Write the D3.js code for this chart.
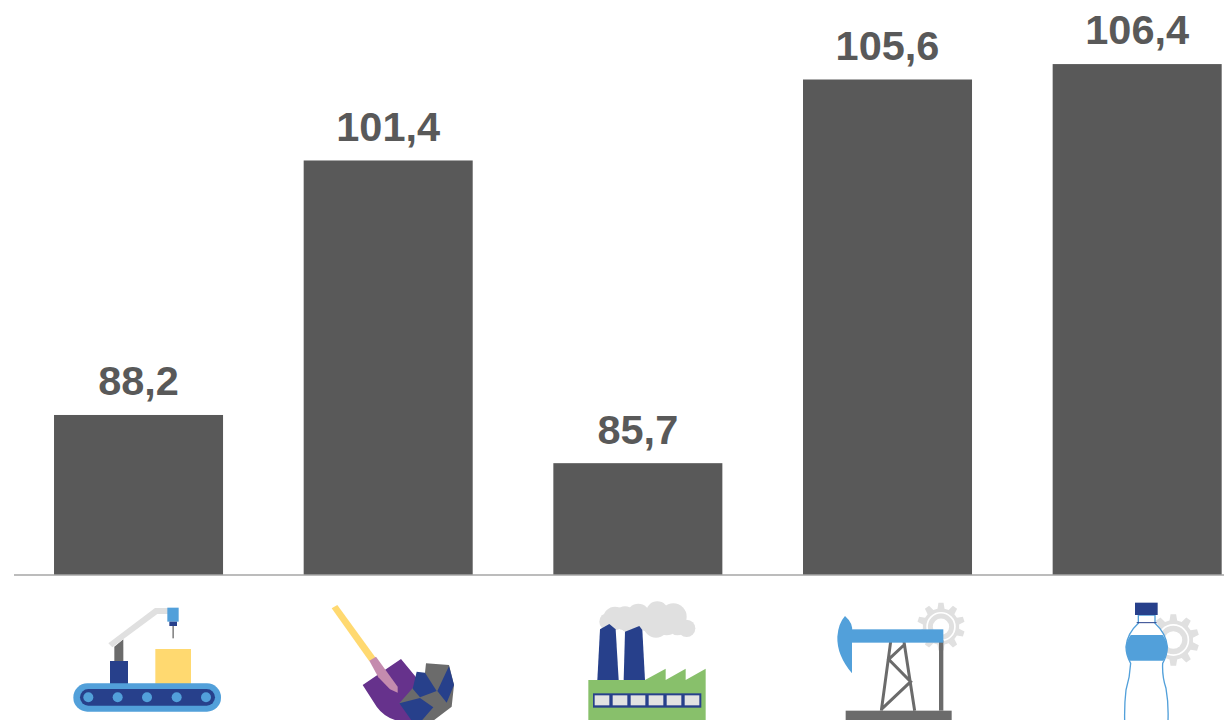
<!DOCTYPE html>
<html><head><meta charset="utf-8">
<script src="https://cdn.jsdelivr.net/npm/d3@7/dist/d3.min.js"></script>
<style>html,body{margin:0;padding:0;background:#fff;overflow:hidden}svg{display:block}</style>
</head><body><svg id="c" width="1224" height="720"></svg>
<script>
const categories = ["Machinery","Mining","Manufacturing","Oil","Beverages"];
const values = [88.2,101.4,85.7,105.6,106.4];
const labels = ["88,2","101,4","85,7","105,6","106,4"];

const svg = d3.select("#c");
const baseY = 575;
const x = d3.scaleBand().domain(categories).range([13.7,1262]).paddingInner(0.323).paddingOuter(0.1615);
const y = d3.scaleLinear().domain([79.9,110]).range([baseY,baseY-30.1*19.28]);

svg.selectAll("rect.bar").data(values).join("rect").attr("class","bar")
  .attr("x",(d,i)=>x(categories[i])).attr("width",x.bandwidth())
  .attr("y",d=>y(d)).attr("height",d=>baseY-y(d)).attr("fill","#595959");
svg.selectAll("text.lbl").data(values).join("text").attr("class","lbl")
  .attr("x",(d,i)=>x(categories[i])+x.bandwidth()/2).attr("y",d=>y(d)-19.6)
  .attr("text-anchor","middle").attr("font-family","'Liberation Sans',Arial,sans-serif")
  .attr("font-weight","bold").attr("font-size",41.5).attr("fill","#595959")
  .text((d,i)=>labels[i]);
svg.append("line").attr("x1",14).attr("x2",1224).attr("y1",baseY).attr("y2",baseY)
  .attr("stroke","#a6a6a6").attr("stroke-width",1.3);

// Icons (decoration), drawn in 3x zoom coordinates
const BLUE="#52a0da",NAVY="#27408b",GRAY="#6b6b6b",LIGHT="#e0e0e0",YEL="#ffd970",GREEN="#88c06b";
function icon(ox,oy){return svg.append("g").attr("transform",`translate(${ox},${oy}) scale(${1/3})`);}
const poly=(g,pts,f)=>g.append("polygon").attr("points",pts).attr("fill",f);
const rect=(g,a,b,c,d,f,r)=>g.append("rect").attr("x",a).attr("y",b).attr("width",c-a).attr("height",d-b).attr("fill",f).attr("rx",r||0);
function gear(g,cx,cy,r){
  const n=10,pts=[];
  for(let i=0;i<n;i++){
    const a=i*2*Math.PI/n-Math.PI/2,w=Math.PI/n;
    [[-1,.76],[-.55,1],[.55,1],[1,.76]].forEach(([k,m])=>{
      const t=a+k*w*.62; pts.push([cx+r*m*Math.cos(t),cy+r*m*Math.sin(t)].join(","));
    });
  }
  poly(g,pts.join(" "),LIGHT);
  g.append("circle").attr("cx",cx).attr("cy",cy).attr("r",r*.58).attr("fill","none").attr("stroke","#fff").attr("stroke-width",5);
  g.append("circle").attr("cx",cx).attr("cy",cy).attr("r",r*.34).attr("fill","#fff");
}

// Conveyor
let g=icon(50,590);
poly(g,"193,170 220,148 220,213 193,213",GRAY);
poly(g,"175,160 315,54 355,54 355,72 322,72 187,172",LIGHT);
rect(g,352,53,386,95,BLUE); rect(g,358,95,381,108,NAVY); rect(g,367,108,372,145,"#8a8a8a");
rect(g,180,213,234,282,NAVY); rect(g,316,177,423,282,YEL);
rect(g,70,280,513,365,BLUE,42); rect(g,90,297,495,347,NAVY,25);
[115,203,291,380,468].forEach(c=>g.append("circle").attr("cx",c).attr("cy",322).attr("r",15).attr("fill",BLUE));

// Shovel and rock
poly(g,"845,55 862,45 977,203 958,214",YEL);
g.append("path").attr("d","M938,285 L1053,207 L1105,270 L1100,300 L1090,392 L1035,390 Q1000,378 980,350 Z").attr("fill","#66328c");
poly(g,"958,212 978,200 1043,290 1043,308 1020,298 985,262","#c48bae");
poly(g,"1128,220 1197,225 1212,285 1205,350 1150,392 1105,392 1048,340 1085,298 1125,248",GRAY);
poly(g,"1100,245 1125,248 1160,303 1110,322 1088,296",NAVY);
poly(g,"1197,228 1212,285 1190,338 1162,303",NAVY);
poly(g,"1048,340 1110,324 1150,352 1115,392 1085,392",NAVY);

// Factory
g=icon(570,590);
g.append("g").attr("fill",LIGHT).selectAll("circle")
 .data([[115,95,27],[135,85,35],[165,85,36],[180,100,30],[205,75,34],[235,90,35],[262,68,34],[290,100,36],[310,80,40],[258,105,38],[350,115,26],[322,108,28]])
 .join("circle").attr("cx",d=>d[0]).attr("cy",d=>d[1]).attr("r",d=>d[2]);
poly(g,"55,270 225,270 287,236 287,270 347,236 347,270 407,236 407,392 55,392",GREEN);
poly(g,"82,270 90,118 118,102 137,118 146,270",NAVY);
poly(g,"161,270 165,125 208,108 217,120 225,270",NAVY);
rect(g,69,310,394,353,NAVY);
[74,128,182,236,290,344].forEach(c=>rect(g,c,316,c+44,346,"#e2e2e2"));

// Pump
gear(g,1113,110,72);
rect(g,827,362,1145,390,GRAY); rect(g,1107,150,1120,362,GRAY);
g.append("path").attr("fill","none").attr("stroke",GRAY).attr("stroke-width",9)
 .attr("d","M962,155 L934,362 M1002,155 L1034,362 M1002,165 L956,208 L1022,275 L934,358");
rect(g,845,118,1120,158,BLUE);
g.append("path").attr("d","M825,78 Q850,100 846,125 L846,250 Q800,195 802,140 Q805,100 825,78 Z").attr("fill",BLUE);

// Bottle
g=icon(1090,590);
gear(g,250,150,78);
const bottle="M145,75 L145,100 Q112,130 108,170 Q108,195 122,220 Q120,260 108,300 Q103,340 104,392 L234,392 Q236,340 228,295 Q216,260 218,220 Q232,195 232,170 Q228,130 195,100 L195,75 Z";
g.append("path").attr("d",bottle).attr("fill","#fff").attr("stroke",BLUE).attr("stroke-width",4);
g.append("path").attr("d","M122,135 L218,135 Q232,155 232,172 Q232,195 220,212 L119,212 Q108,195 108,172 Q108,155 122,135 Z").attr("fill",BLUE);
g.append("line").attr("x1",140).attr("x2",200).attr("y1",98).attr("y2",98).attr("stroke",NAVY).attr("stroke-width",3);
rect(g,135,38,203,75,NAVY);
</script></body></html>
